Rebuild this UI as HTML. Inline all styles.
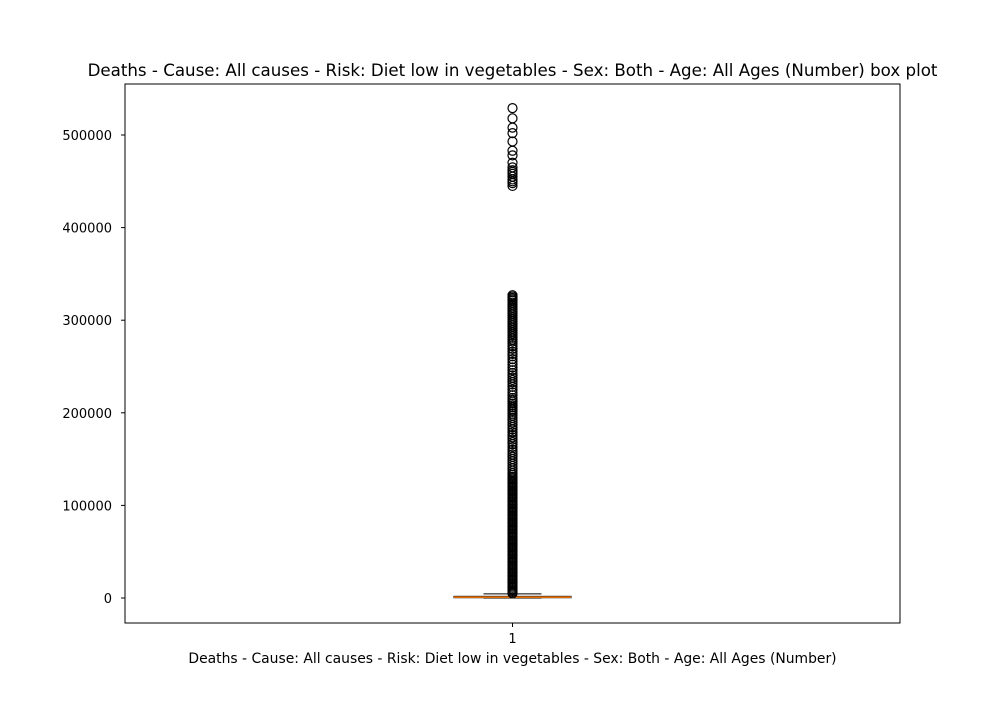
<!DOCTYPE html>
<html><head><meta charset="utf-8"><style>
body{margin:0;background:#fff;font-family:"DejaVu Sans","Liberation Sans",sans-serif;}
</style></head><body>
<svg id="c" width="1000" height="700" xmlns="http://www.w3.org/2000/svg" font-family="DejaVu Sans, Liberation Sans, sans-serif">
<rect width="1000" height="700" fill="#fff"/>
<text x="512.5" y="76" font-size="16.67" text-anchor="middle">Deaths - Cause: All causes - Risk: Diet low in vegetables - Sex: Both - Age: All Ages (Number) box plot</text>
<g id="plot"></g>
<rect x="125" y="84" width="775" height="539" fill="none" stroke="#000" stroke-width="1"/>
<text x="512.5" y="663" font-size="13.9" text-anchor="middle">Deaths - Cause: All causes - Risk: Diet low in vegetables - Sex: Both - Age: All Ages (Number)</text>
</svg>
<script>
const categories = ["1"];
const q1 = [300];
const median = [900];
const q3 = [1800];
const whiskerLow = [0];
const whiskerHigh = [4500];
const yTicks = [0,100000,200000,300000,400000,500000];
const outliers = [5000,6500,8000,9500,11000,12500,14000,15500,17000,18500,20000,21500,23000,24500,26000,27500,29000,30500,32000,33500,35000,36500,38000,39500,41000,42500,44000,45500,47000,48500,50000,51500,53000,54500,56000,57500,59000,60500,62000,63500,65000,66500,68000,69500,71000,72500,74000,75500,77000,78500,80000,81500,83000,84500,86000,87500,89000,90500,92000,93500,95000,96500,98000,99500,101000,102500,104000,105500,107000,108500,110000,111500,113000,114500,116000,117500,119000,120500,122000,123500,125000,126500,128000,129500,131000,133000,135000,137500,140000,142500,145000,147500,150000,152500,155000,157500,160000,163000,166000,168500,171000,173500,176000,179000,182000,184500,187000,189500,192000,194500,197000,199000,201000,202500,204000,206000,208000,210000,212000,214000,216000,219000,222000,225000,228000,230500,233000,235500,238000,240500,243000,246000,249000,252000,255000,258000,261000,263500,266000,269000,272000,274500,277000,279000,281000,283000,285000,287000,289000,291000,293000,295000,297000,299000,301000,303000,305000,307000,309000,311000,313000,315000,317000,319000,321000,322500,324000,325500,327000,445000,448000,450000,452000,455000,458000,460000,462000,465000,470000,478000,483000,493000,502000,508000,518000,529000];
const NS="http://www.w3.org/2000/svg";
const g=document.getElementById('plot');
const y=v=>598-(v/500000)*(598-135);
const x=i=>512.5+i*0;
function mk(t,a){const e=document.createElementNS(NS,t);for(const k in a)e.setAttribute(k,a[k]);g.appendChild(e);return e;}
yTicks.forEach(t=>{
  const l=mk('line',{x1:121,x2:125,y1:y(t),y2:y(t),stroke:'#000'});
  
  
  const tx=mk('text',{x:112,y:y(t)+5,'font-size':13,'text-anchor':'end'});
  tx.textContent=String(t);
  
  
});
categories.forEach((c,i)=>{
  const cx=x(i);
  const tk=mk('line',{x1:cx,x2:cx,y1:623,y2:627,stroke:'#000'});
  
  
  const tl=mk('text',{x:cx,y:643,'font-size':13,'text-anchor':'middle'});
  tl.textContent=c;
  
  
  const w1=mk('line',{x1:cx,x2:cx,y1:y(q3[i]),y2:y(whiskerHigh[i]),stroke:'#000'});
  
  
  const c1=mk('line',{x1:cx-29,x2:cx+29,y1:y(whiskerHigh[i]),y2:y(whiskerHigh[i]),stroke:'#000'});
  
  
  const c2=mk('line',{x1:cx-29,x2:cx+29,y1:y(whiskerLow[i]),y2:y(whiskerLow[i]),stroke:'#000'});
  
  
  const b=mk('rect',{x:cx-58.5,y:y(q3[i]),width:117,height:Math.max(1,y(q1[i])-y(q3[i])),fill:'none',stroke:'#000'});
  
  
  const m=mk('line',{x1:cx-58.5,x2:cx+58.5,y1:y(median[i]),y2:y(median[i]),stroke:'#ff7f0e','stroke-width':1.5});
  
  
  outliers.forEach(v=>{
    const o=mk('circle',{cx:cx,cy:y(v),r:4.5,fill:'none',stroke:'#000','stroke-width':1.2});
    
    
  });
});
</script>
</body></html>
